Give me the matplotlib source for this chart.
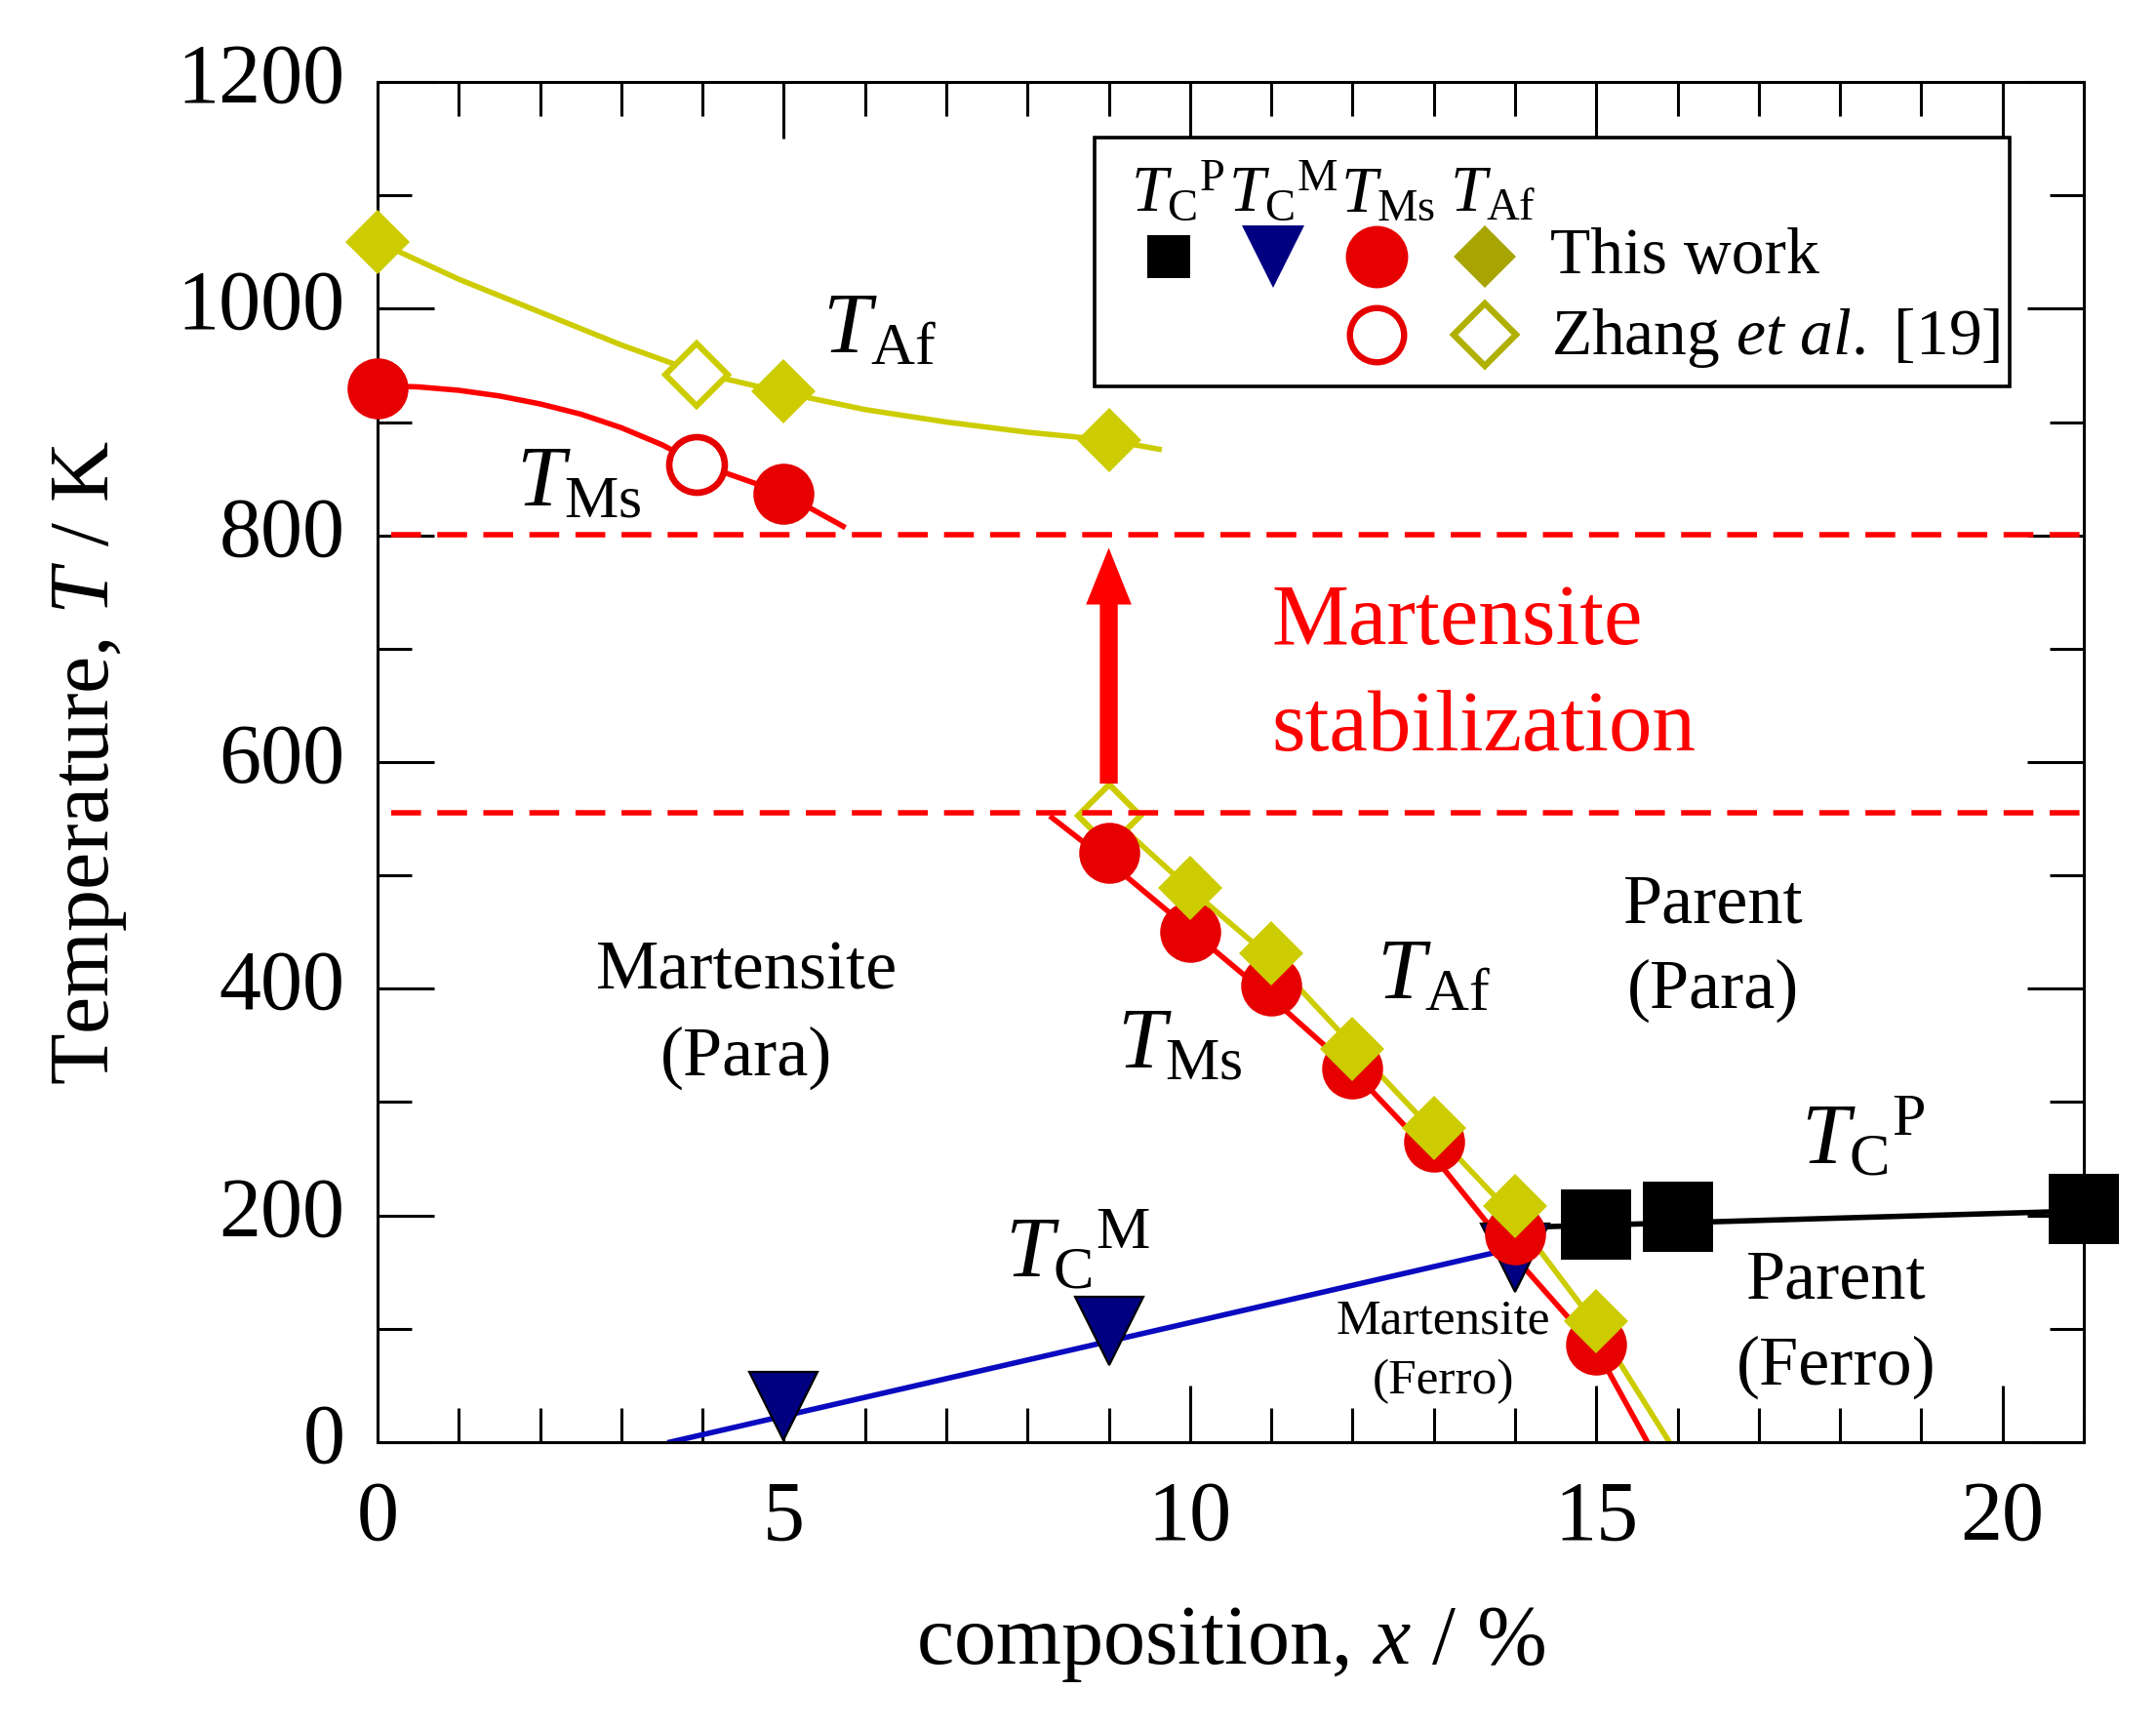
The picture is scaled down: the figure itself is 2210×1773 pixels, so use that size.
import matplotlib
matplotlib.use('Agg')
import matplotlib.pyplot as plt
from matplotlib.patches import Rectangle
from matplotlib.ticker import MultipleLocator

plt.rcParams['font.family'] = ['Liberation Serif', 'DejaVu Serif']
plt.rcParams['mathtext.fontset'] = 'custom'
plt.rcParams['mathtext.rm'] = 'Liberation Serif'
plt.rcParams['mathtext.it'] = 'Liberation Serif:italic'
plt.rcParams['mathtext.bf'] = 'Liberation Serif:bold'

# ---------------- data ----------------
comp_this = [0, 5, 9, 10, 11, 12, 13, 14, 15]
tms_this = [930, 837, 520, 450, 403, 330, 265, 183, 86]
taf_this = [1059, 927, 884, 489, 431, 347, 277, 208, 107]

zhang_comp_ms = [3.93]
zhang_tms = [863]
zhang_comp_af = [3.93, 9]
zhang_taf = [942, 553]

tcm_comp = [5, 9, 14]
tcm_vals = [32, 98, 163]

tcp_comp = [15, 16, 21]
tcp_vals = [192, 199, 206]

# guide curves
taf_upper_x = [0, 1, 2, 3, 3.93, 5, 6, 7, 8, 9, 9.62]
taf_upper_T = [1059, 1026, 997, 968, 944, 926, 911, 900, 891, 884, 876]
tms_upper_x = [0, 0.5, 1, 1.5, 2, 2.5, 3, 3.5, 3.93, 5, 5.73]
tms_upper_T = [932, 931, 928, 923, 916, 907, 895, 880, 864, 837, 808]
tms_lower_x = [8.30, 9, 10, 11, 12, 13, 14, 15, 15.63]
tms_lower_T = [551, 512, 452, 392, 328, 252, 163, 82, 0]
taf_lower_x = [9, 10, 11, 12, 13, 14, 15, 15.9]
taf_lower_T = [553, 488, 427, 350, 274, 198, 103, 0]
tcm_line_x = [3.6, 13.8]
tcm_line_T = [0, 168]
tcp_line_x = [14.34, 21]
tcp_line_T = [190, 204]

stab_levels = [801, 555]
stab_x = [0.17, 21]
arrow_x = 9
arrow_T = [581, 789]

# ---------------- colours ----------------
RED = '#E60000'
RED_L = '#FF0000'
YEL = '#CCCC00'
YEL_D = '#A8A400'
NAVY = '#000080'
BLUE_L = '#0A0AC0'

fig = plt.figure(figsize=(11.05, 8.865), dpi=200)
ax = fig.add_axes([0.1751, 0.1664, 0.7914, 0.7862])
ax.set_xlim(0, 21)
ax.set_ylim(0, 1200)

# dashed stabilization lines
for lv in stab_levels:
    ax.plot(stab_x, [lv, lv], color=RED_L, lw=2.0, dashes=(5.5, 3.0), zorder=4)

# arrow
ax.arrow(arrow_x, arrow_T[0], 0, arrow_T[1] - arrow_T[0], width=0.22,
         head_width=0.56, head_length=50, length_includes_head=True,
         color=RED_L, lw=0, zorder=4)

# guide curves
LW = 2.0
ax.plot(taf_upper_x, taf_upper_T, color=YEL, lw=LW, zorder=2)
ax.plot(tms_upper_x, tms_upper_T, color=RED_L, lw=LW, zorder=2)
ax.plot(tms_lower_x, tms_lower_T, color=RED_L, lw=LW, zorder=2)
ax.plot(taf_lower_x, taf_lower_T, color=YEL, lw=LW, zorder=2)
ax.plot(tcm_line_x, tcm_line_T, color=BLUE_L, lw=LW, zorder=2)
ax.plot(tcp_line_x, tcp_line_T, color='black', lw=LW, zorder=2)

# markers
ax.plot(tcm_comp, tcm_vals, 'v', ms=25, mfc=NAVY, mec='black', mew=0.8,
        ls='none', zorder=5, clip_on=False)
ax.plot(zhang_comp_af, zhang_taf, 'D', ms=16.5, mfc='white', mec=YEL,
        mew=2.2, ls='none', zorder=3, clip_on=False)
ax.plot(zhang_comp_ms, zhang_tms, 'o', ms=20.5, mfc='white', mec=RED,
        mew=2.4, ls='none', zorder=5, clip_on=False)
ax.plot(comp_this, tms_this, 'o', ms=22.5, mfc=RED, mec=RED, mew=0,
        ls='none', zorder=6, clip_on=False)
ax.plot(comp_this, taf_this, 'D', ms=17, mfc=YEL, mec=YEL, mew=0,
        ls='none', zorder=7, clip_on=False)
ax.plot(tcp_comp, tcp_vals, 's', ms=26, mfc='black', mec='black', mew=0,
        ls='none', zorder=7, clip_on=False)

# axes styling
ax.xaxis.set_major_locator(MultipleLocator(5))
ax.xaxis.set_minor_locator(MultipleLocator(1))
ax.yaxis.set_major_locator(MultipleLocator(200))
ax.yaxis.set_minor_locator(MultipleLocator(100))
ax.tick_params(which='both', direction='in', top=True, right=True, width=1.1,
               color='black')
ax.tick_params(which='major', length=21, labelsize=31)
ax.tick_params(which='minor', length=12.5)
ax.tick_params(axis='x', pad=14)
ax.tick_params(axis='y', pad=12)
for lbl in ax.get_yticklabels():
    lbl.set_verticalalignment('center')
for s in ax.spines.values():
    s.set_linewidth(1.1)

ax.set_xlabel('composition, $x$ / %', fontsize=31, labelpad=17.5)
ax.set_ylabel('Temperature, $T$ / K', fontsize=31, labelpad=18)

# curve labels
lab = dict(fontsize=32, ha='left', va='baseline', zorder=8)
ax.text(5.47, 962, r'$T_{\mathrm{Af}}$', **lab)
ax.text(1.70, 826, r'$T_{\mathrm{Ms}}$', **lab)
ax.text(12.30, 392, r'$T_{\mathrm{Af}}$', **lab)
ax.text(9.10, 330, r'$T_{\mathrm{Ms}}$', **lab)
ax.text(7.72, 146, r'$T_{\mathrm{C}}{}^{\mathrm{M}}$', **lab)
ax.text(17.52, 246, r'$T_{\mathrm{C}}{}^{\mathrm{P}}$', **lab)

# region labels
reg = dict(ha='center', va='center', multialignment='center', linespacing=1.45,
           zorder=8)
ax.text(4.54, 377, 'Martensite\n(Para)', fontsize=26, **reg)
ax.text(16.44, 436, 'Parent\n(Para)', fontsize=26, **reg)
ax.text(17.95, 104, 'Parent\n(Ferro)', fontsize=26, **reg)
ax.text(13.12, 80, 'Martensite\n(Ferro)', fontsize=18.5, ha='center',
        va='center', multialignment='center', linespacing=1.42, zorder=8)
ax.text(11.0, 676, 'Martensite\nstabilization', fontsize=32, color=RED_L,
        ha='left', va='center', linespacing=1.45, zorder=8)

# legend (drawn manually)
T = ax.transAxes
ax.add_patch(Rectangle((0.4204, 0.7762), 0.9564 - 0.4204, 0.9593 - 0.7762,
                       transform=T, facecolor='white', edgecolor='black',
                       lw=1.3, zorder=9))
hdr = dict(transform=T, fontsize=24, ha='left', va='baseline', zorder=10)
ax.text(0.4415, 0.9047, r'$T_{\mathrm{C}}{}^{\mathrm{P}}$', **hdr)
ax.text(0.4985, 0.9047, r'$T_{\mathrm{C}}{}^{\mathrm{M}}$', **hdr)
ax.text(0.5644, 0.9047, r'$T_{\mathrm{Ms}}$', **hdr)
ax.text(0.6282, 0.9047, r'$T_{\mathrm{Af}}$', **hdr)
ax.plot([0.4635], [0.8716], 's', ms=16, mfc='black', mec='black', mew=0,
        transform=T, zorder=10, clip_on=False)
ax.plot([0.5251], [0.8716], 'v', ms=23, mfc=NAVY, mec=NAVY, mew=0,
        transform=T, zorder=10, clip_on=False)
ax.plot([0.5853], [0.8716], 'o', ms=23, mfc=RED, mec=RED, mew=0,
        transform=T, zorder=10, clip_on=False)
ax.plot([0.6491], [0.8716], 'D', ms=16.3, mfc=YEL_D, mec=YEL_D, mew=0,
        transform=T, zorder=10, clip_on=False)
ax.plot([0.5853], [0.814], 'o', ms=20, mfc='white', mec=RED, mew=2.3,
        transform=T, zorder=10, clip_on=False)
ax.plot([0.6491], [0.814], 'D', ms=16.5, mfc='white', mec='#B0B000', mew=2.3,
        transform=T, zorder=10, clip_on=False)
ax.text(0.6875, 0.8594, 'This work', transform=T, fontsize=24.3, ha='left',
        va='baseline', zorder=10)
ax.text(0.6880, 0.800, 'Zhang $et$ $al.$ [19]', transform=T, fontsize=24.3,
        ha='left', va='baseline', zorder=10)

fig.savefig('out.png', dpi=200, facecolor='white')
